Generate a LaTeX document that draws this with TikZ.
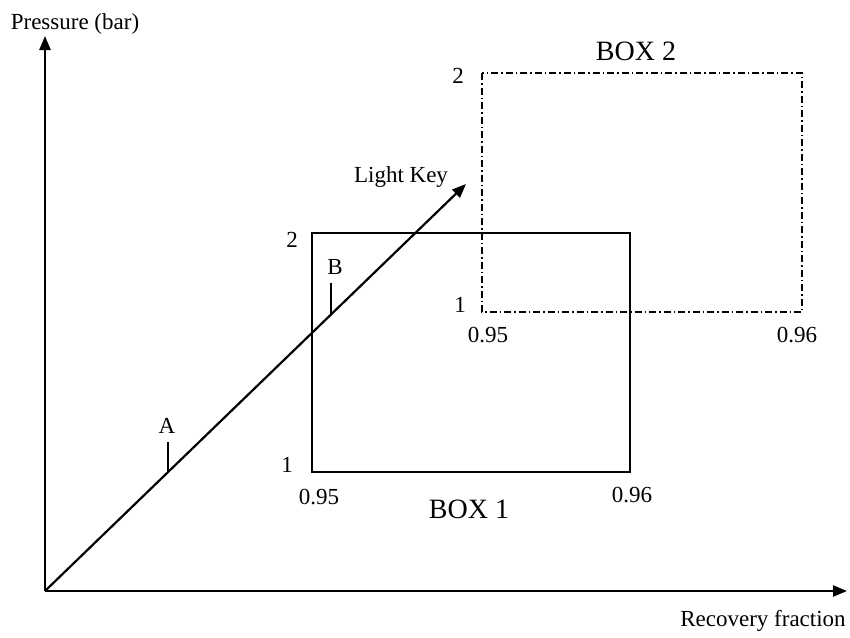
\documentclass[tikz,border=0pt]{standalone}
\usepackage{fontspec}
\setmainfont{Liberation Serif}
\usetikzlibrary{arrows.meta}
\begin{document}
\begin{tikzpicture}[x=1pt,y=-1pt,
  axis/.style={line width=2.4pt,-{Triangle[length=14pt,width=11pt]}},
  boxline/.style={line width=2pt},
  dashdotline/.style={line width=2pt,dash pattern=on 7pt off 3pt on 1.5pt off 3pt},
  lbl/.style={font=\fontsize{23}{27}\selectfont,inner sep=0pt},
  biglbl/.style={font=\fontsize{28}{33}\selectfont,inner sep=0pt}]
\useasboundingbox (0,0) rectangle (850,637);
\coordinate (O) at (45,591);
\coordinate (ytip) at (45,36);
\coordinate (xtip) at (847,591);
\coordinate (lktip) at (466,184);
\coordinate (Abot) at (168,472);
\coordinate (Atop) at (168,442);
\coordinate (Bbot) at (331,314);
\coordinate (Btop) at (331,283);
% boxes
\draw[boxline] (312,233) rectangle (630,472);
\draw[dashdotline] (482,73) rectangle (802,312);
% axes
\draw[axis] (O) -- (ytip);
\draw[axis] (O) -- (xtip);
\draw[line width=2.2pt,-{Triangle[length=14pt,width=11pt]}] (O) -- (lktip);
\draw[line width=2pt] (Abot) -- (Atop);
\draw[line width=2pt] (Bbot) -- (Btop);
% labels
\node[lbl] (ylab) at (75,24) {Pressure (bar)};
\node[lbl] (xlab) at (763,621) {Recovery fraction};
\node[lbl] (lk) at (401,177) {Light Key};
\node[lbl] (A) at (167,426) {A};
\node[lbl] (B) at (335,267) {B};
\node[lbl] (b1y2) at (292,240) {2};
\node[lbl] (b1y1) at (287,465) {1};
\node[lbl] (b1x1) at (319,497) {0.95};
\node[lbl] (b1x2) at (632,495) {0.96};
\node[biglbl] (box1) at (469,509) {BOX 1};
\node[lbl] (b2y2) at (458,76) {2};
\node[lbl] (b2y1) at (460,305) {1};
\node[lbl] (b2x1) at (488,335) {0.95};
\node[lbl] (b2x2) at (797,335) {0.96};
\node[biglbl] (box2) at (636,51) {BOX 2};
\end{tikzpicture}
\end{document}
